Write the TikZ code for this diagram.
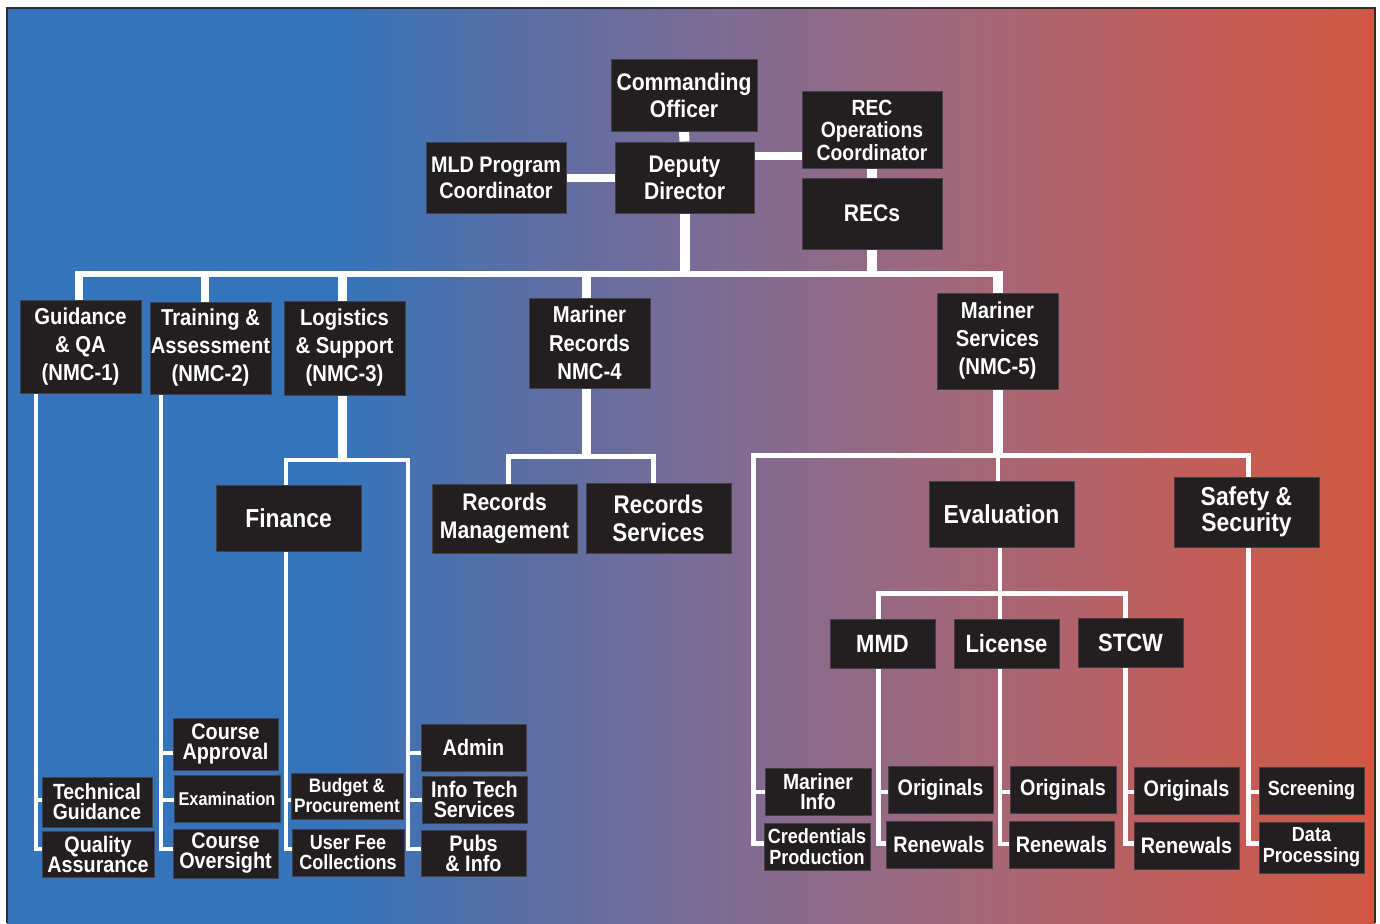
\documentclass[tikz,border=0pt]{standalone}
\usepackage{fontspec}
\setmainfont[FakeStretch=0.88]{Liberation Sans}
\pgfdeclarelayer{backdrop}
\pgfdeclarelayer{wires}
\pgfsetlayers{backdrop,wires,main}

\definecolor{cA}{RGB}{53,116,186}
\definecolor{cB}{RGB}{90,110,164}
\definecolor{cC}{RGB}{122,108,150}
\definecolor{cD}{RGB}{162,104,122}
\definecolor{cE}{RGB}{192,94,92}
\definecolor{cF}{RGB}{208,88,66}
\definecolor{boxfill}{RGB}{35,31,32}
\definecolor{boxedge}{RGB}{66,64,72}
\definecolor{framecol}{RGB}{45,45,48}

\pgfdeclarehorizontalshading{bgshade}{100bp}{%
  color(0bp)=(cA); color(25bp)=(cA); color(37.15bp)=(cA);
  color(43.7bp)=(cB); color(50.3bp)=(cC); color(59.8bp)=(cD);
  color(67.9bp)=(cE); color(75bp)=(cF); color(100bp)=(cF)}

\newcommand\boxfont[2]{\bfseries\fontsize{#1}{#2}\selectfont\lineskiplimit=-50pt\relax}

\tikzset{
  box/.style={fill=boxfill,draw=boxedge,line width=1pt,text=white,
    align=center,inner sep=0pt},
  w4/.style={draw=white,line width=4pt},
  w5/.style={draw=white,line width=5pt},
  w6/.style={draw=white,line width=6pt},
  w8/.style={draw=white,line width=8pt},
  w9/.style={draw=white,line width=9pt},
  w10/.style={draw=white,line width=10pt}}

% box: name, x1, y1, x2, y2 (pixel grid, y downwards), size, leading, text
\newcommand\orgbox[8]{%
  \node[box,font=\boxfont{#6}{#7},minimum width={#4-#2},minimum height={#5-#3}]
    (#1) at ({(#2+#4)/2},{(#3+#5)/2}) {#8};}

\begin{document}
\begin{tikzpicture}[x=1pt,y=-1pt]

\useasboundingbox (0,0) rectangle (1380,923);

% ---------- backdrop ----------
\begin{pgfonlayer}{backdrop}
  \fill[white] (0,0) rectangle (1380,923);
  \shade[shading=bgshade] (7,8) rectangle (1375,923);
  \draw[framecol,line width=2pt] (7,923) -- (7,8) -- (1375,8) -- (1375,923);
\end{pgfonlayer}

% ---------- top management ----------
\orgbox{CO}{611}{60}{757}{131}{24}{27}{Commanding\\Officer}
\orgbox{DD}{615}{142}{754}{213}{24}{27}{Deputy\\Director}
\orgbox{MLD}{426}{142}{566}{213}{22.5}{26}{MLD Program\\Coordinator}
\orgbox{REO}{802}{92}{942}{168}{22}{22.5}{REC\\Operations\\Coordinator}
\orgbox{RECs}{802}{178}{942}{249}{24}{27}{RECs}

% ---------- divisions ----------
\orgbox{G}{20}{300}{141}{393}{23}{28}{Guidance\\\& QA\\(NMC-1)}
\orgbox{T}{150}{302}{271}{394}{23}{28}{Training \&\\Assessment\\(NMC-2)}
\orgbox{L}{284}{301}{405}{395}{23}{28}{Logistics\\\& Support\\(NMC-3)}
\orgbox{MR}{529}{298}{650}{388}{23}{28.5}{Mariner\\Records\\NMC-4}
\orgbox{MS}{937}{293}{1058}{389}{23}{28}{Mariner\\Services\\(NMC-5)}

% ---------- branches ----------
\orgbox{Fin}{216}{485}{361}{551}{26}{28}{Finance}
\orgbox{RM}{432}{484}{577}{553}{24}{28}{Records\\Management}
\orgbox{RS}{586}{483}{731}{553}{25.5}{28}{Records\\Services}
\orgbox{Ev}{929}{481}{1074}{547}{26}{28}{Evaluation}
\orgbox{SS}{1174}{477}{1319}{547}{26}{26}{Safety \&\\Security}
\orgbox{MMD}{830}{619}{935}{668}{25}{27}{MMD}
\orgbox{Lic}{954}{619}{1059}{668}{25}{27}{License}
\orgbox{STCW}{1078}{618}{1183}{667}{25}{27}{STCW}

% ---------- sections ----------
\orgbox{TG}{42}{777}{152}{827}{22}{20}{Technical\\Guidance}
\orgbox{QA}{42}{831}{154}{877}{22.5}{20}{Quality\\Assurance}
\orgbox{CA}{173}{718}{278}{770}{22.5}{20}{Course\\Approval}
\orgbox{Ex}{174}{775}{280}{822}{18.5}{20}{Examination}
\orgbox{COv}{173}{829}{278}{878}{22.5}{20}{Course\\Oversight}
\orgbox{BP}{291}{773}{403}{819}{19.5}{20}{Budget \&\\Procurement}
\orgbox{UF}{292}{829}{404}{876}{20.5}{20}{User Fee\\Collections}
\orgbox{Adm}{421}{724}{526}{771}{22.5}{20}{Admin}
\orgbox{IT}{422}{776}{527}{823}{22.5}{20}{Info Tech\\Services}
\orgbox{Pubs}{421}{830}{526}{876}{22.5}{20}{Pubs\\\& Info}
\orgbox{MI}{765}{768}{871}{815}{22}{20}{Mariner\\Info}
\orgbox{CP}{764}{823}{870}{870}{20.5}{21}{Credentials\\Production}
\orgbox{O1}{888}{766}{993}{813}{22.5}{20}{Originals}
\orgbox{R1}{886}{821}{992}{868}{22.5}{20}{Renewals}
\orgbox{O2}{1010}{766}{1116}{813}{22.5}{20}{Originals}
\orgbox{R2}{1009}{821}{1114}{868}{22.5}{20}{Renewals}
\orgbox{O3}{1134}{767}{1239}{814}{22.5}{20}{Originals}
\orgbox{R3}{1134}{822}{1239}{869}{22.5}{20}{Renewals}
\orgbox{Scr}{1259}{767}{1364}{814}{20.5}{20}{Screening}
\orgbox{DP}{1259}{822}{1364}{873}{20.5}{21}{Data\\Processing}

% ---------- connectors ----------
\begin{pgfonlayer}{wires}
  % levels and columns
  \coordinate (mbL) at (75,274);   \coordinate (mbR) at (1003,274);
  \coordinate (gdrop) at (79,271); \coordinate (tdrop) at (204.5,271);
  \coordinate (ldrop) at (342.5,271); \coordinate (mrdrop) at (586.5,271);
  \coordinate (msdrop) at (998,271);
  \coordinate (recj) at (802,155.5);
  \coordinate (tA) at (0,753);  \coordinate (tB) at (0,799.5);
  \coordinate (tC) at (0,848.5);
  \coordinate (tB2) at (0,791.5); \coordinate (tC2) at (0,843.5);
  \coordinate (gx) at (35.5,0);  \coordinate (tx) at (161,0);
  \coordinate (lbar) at (0,459.5);
  \coordinate (lxL) at (286,0);  \coordinate (lxR) at (408,0);
  \coordinate (mrbar) at (0,456.5);
  \coordinate (rmx) at (508,0);  \coordinate (rsx) at (653,0);
  \coordinate (msbar) at (0,455.5);
  \coordinate (msxL) at (753.5,0); \coordinate (msxR) at (1248,0);
  \coordinate (evbar) at (0,593.5);
  \coordinate (exL) at (878.5,0); \coordinate (exM) at (999.5,0);
  \coordinate (exR) at (1125,0);

  % top management
  \draw[w10] (CO.south) -- (DD.north);
  \draw[w8] (MLD.east) -- (DD.west);
  \draw[w8] (DD.east |- recj) -- (REO.west |- recj);
  \draw[w10] (REO.south) -- (RECs.north);
  \draw[w10] (DD.south) -- (DD.south |- mbR);
  \draw[w10] (RECs.south) -- (RECs.south |- mbR);

  % main bar and division drops
  \draw[w6] (mbL) -- (mbR);
  \draw[w8] (gdrop) -- (G.north -| gdrop);
  \draw[w8] (tdrop) -- (T.north -| tdrop);
  \draw[w9] (ldrop) -- (L.north -| ldrop);
  \draw[w9] (mrdrop) -- (MR.north -| mrdrop);
  \draw[w10] (msdrop) -- (MS.north -| msdrop);

  % Guidance & QA
  \draw[w4] (G.south -| gx) |- (QA.west |- tC);
  \draw[w4] (gx |- tB) -- (TG.west |- tB);

  % Training & Assessment
  \draw[w4] (T.south -| tx) |- (COv.west |- tC);
  \draw[w4] (tx |- tA) -- (CA.west |- tA);
  \draw[w4] (tx |- tB) -- (Ex.west |- tB);

  % Logistics & Support
  \draw[w9] (L.south -| ldrop) -- (ldrop |- lbar);
  \draw[w4] (UF.west |- tC) -| (lxL |- lbar) -- (lxR |- lbar) |- (Pubs.west |- tC);
  \draw[w4] (lxL |- tB) -- (BP.west |- tB);
  \draw[w4] (lxR |- tA) -- (Adm.west |- tA);
  \draw[w4] (lxR |- tB) -- (IT.west |- tB);

  % Mariner Records
  \draw[w9] (MR.south -| mrdrop) -- (mrdrop |- mrbar);
  \draw[w5] (RM.north -| rmx) |- (rsx |- mrbar) -- (RS.north -| rsx);

  % Mariner Services
  \draw[w10] (MS.south -| msdrop) -- (msdrop |- msbar);
  \draw[w5] (CP.west |- tC2) -| (msxL |- msbar) -- (msxR |- msbar) |- (DP.west |- tC2);
  \draw[w4] (msxL |- tB2) -- (MI.west |- tB2);
  \draw[w4] (msxR |- tB2) -- (Scr.west |- tB2);
  \draw[w4] (msdrop |- msbar) -- (Ev.north -| msdrop);

  % Evaluation
  \draw[w4] (Ev.south -| exM) |- (R2.west |- tC2);
  \draw[w5] (R1.west |- tC2) -| (exL |- evbar) -- (exR |- evbar) |- (R3.west |- tC2);
  \draw[w4] (exL |- tB2) -- (O1.west |- tB2);
  \draw[w4] (exM |- tB2) -- (O2.west |- tB2);
  \draw[w4] (exR |- tB2) -- (O3.west |- tB2);
\end{pgfonlayer}
\end{tikzpicture}
\end{document}
